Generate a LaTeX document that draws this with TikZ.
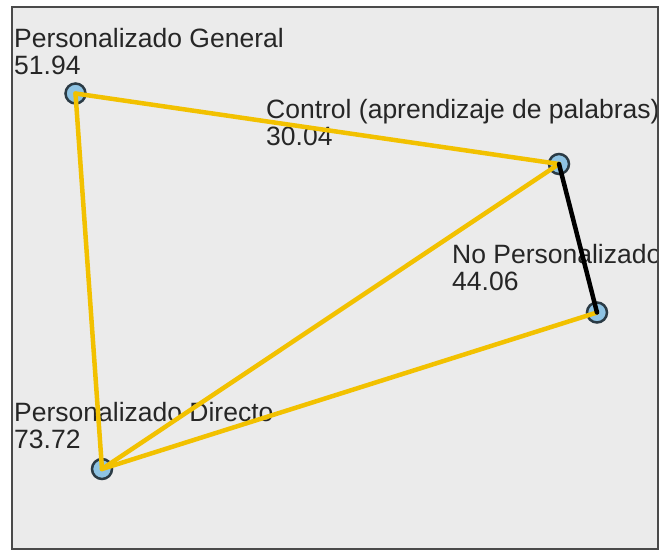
\documentclass[tikz,border=0pt]{standalone}
\usepackage{fontspec}
\setmainfont{Liberation Sans}
\definecolor{bg}{HTML}{EBEBEB}
\definecolor{edgey}{HTML}{F2C100}
\definecolor{nodefill}{HTML}{8EC3E3}
\definecolor{nodeline}{HTML}{2B3B45}
\definecolor{framec}{HTML}{4A4A4A}
\begin{document}
\begin{tikzpicture}[x=1pt,y=-1pt,
  pt/.style={circle,draw=nodeline,line width=2.5pt,fill=nodefill,minimum size=20pt,inner sep=0pt},
  lab/.style={anchor=base west,align=left,inner sep=0pt,font=\fontsize{26.5}{27}\selectfont,text=black!85},
  yl/.style={draw=edgey,line width=4.5pt,line cap=round},
  bl/.style={draw=black,line width=4.5pt,line cap=round}]
\useasboundingbox (0,0) rectangle (661,552);
\fill[white] (0,0) rectangle (661,552);
\fill[bg] (12,7) rectangle (658,549);
\begin{scope}
\clip (12,7) rectangle (658,549);
\node[lab] (lpg) at (14,74) {Personalizado General\\51.94};
\node[lab] (lctl) at (266,145) {Control (aprendizaje de palabras)\\30.04};
\node[lab] (lnp) at (452,290) {No Personalizado\\44.06};
\node[lab] (lpd) at (14,448) {Personalizado Directo\\73.72};
\node[pt] (pg) at (75.5,93.5) {};
\node[pt] (ctl) at (559,164) {};
\node[pt] (np) at (597,312.5) {};
\node[pt] (pd) at (102,469) {};
\draw[yl] (pg.center) -- (ctl.center);
\draw[yl] (pg.center) -- (pd.center);
\draw[yl] (ctl.center) -- (pd.center);
\draw[yl] (np.center) -- (pd.center);
\draw[bl] (ctl.center) -- (np.center);
\end{scope}
\draw[framec,line width=2pt] (12,7) rectangle (658,549);
\end{tikzpicture}
\end{document}
